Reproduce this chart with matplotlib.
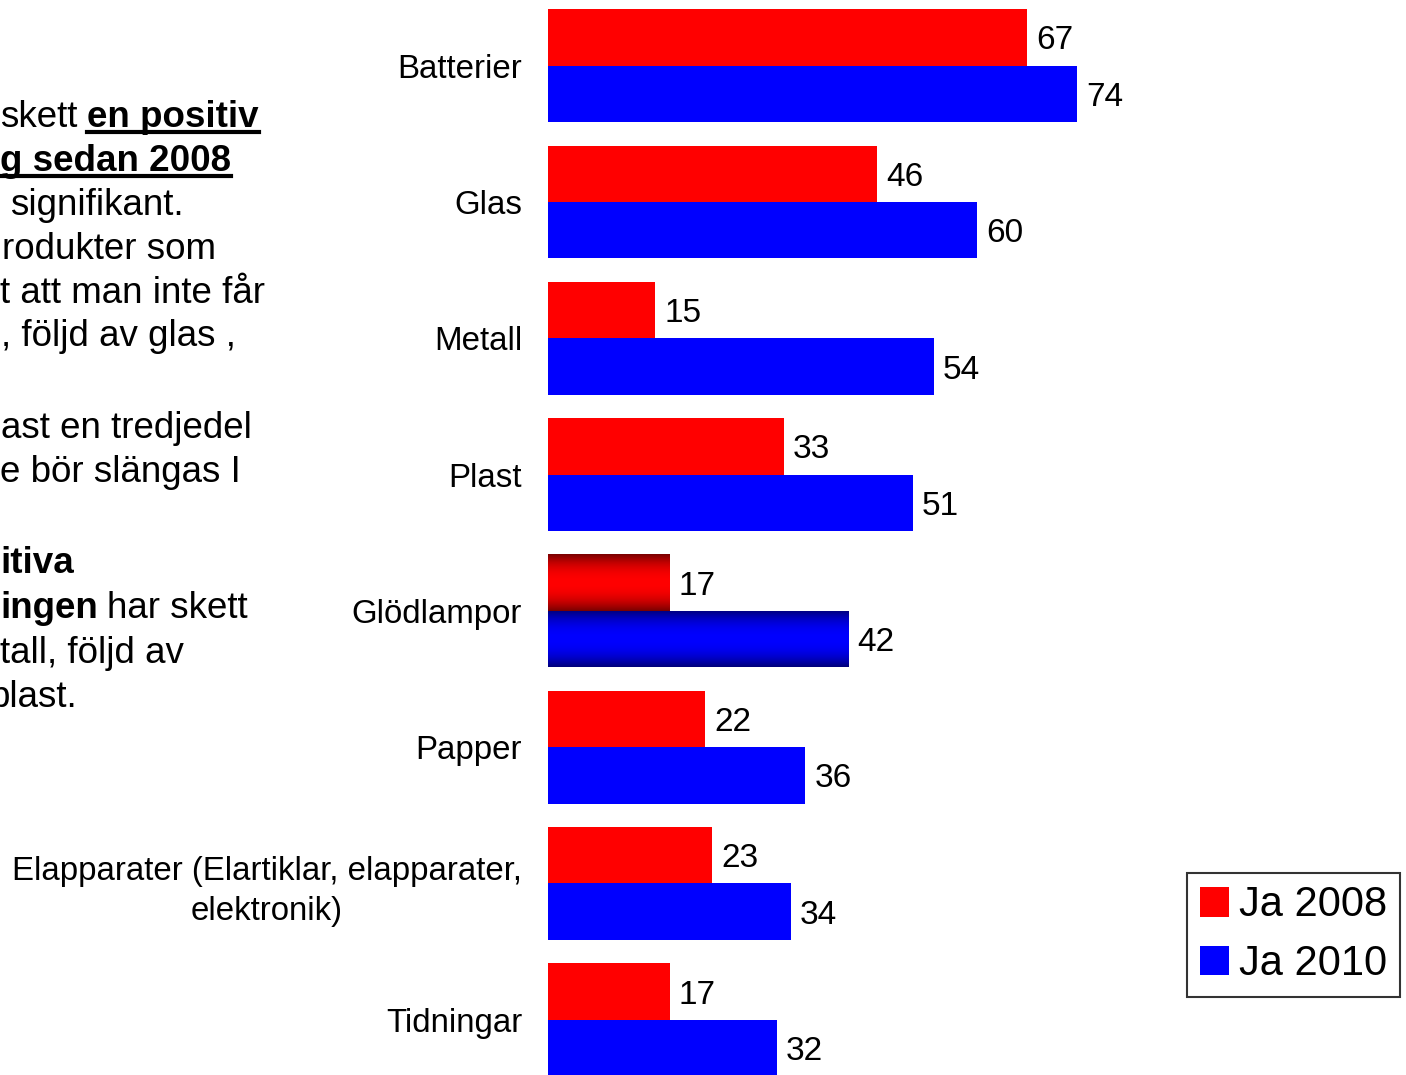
import numpy as np
import matplotlib
matplotlib.use("Agg")
import matplotlib.pyplot as plt
from matplotlib.lines import Line2D
from matplotlib.patches import Patch

plt.rcParams['font.family'] = ['Liberation Sans', 'DejaVu Sans']

# ---- data ----
categories = ['Batterier', 'Glas', 'Metall', 'Plast', 'Glödlampor', 'Papper',
              'Elapparater (Elartiklar, elapparater,\nelektronik)', 'Tidningar']
ja_2008 = [67, 46, 15, 33, 17, 22, 23, 17]
ja_2010 = [74, 60, 54, 51, 42, 36, 34, 32]
series_labels = ['Ja 2008', 'Ja 2010']
gradient_categories = ['Glödlampor']

RED = '#FF0000'
BLUE = '#0000FF'
DARK_RED = '#7A0000'
DARK_BLUE = '#00007A'

W, H = 1406, 1075
fig = plt.figure(figsize=(W / 100, H / 100), dpi=100)

def fx(px):
    return px / W

def fy(py):
    return 1 - py / H

ax = fig.add_axes([fx(548), 0, fx(1177) - fx(548), 1])

y = np.arange(len(categories))
h = 0.4145
b1 = ax.barh(y - h / 2, ja_2008, height=h, color=RED, label=series_labels[0])
b2 = ax.barh(y + h / 2, ja_2010, height=h, color=BLUE, label=series_labels[1])

# gradient overlay for selected categories
def grad_img(bright, dark, n=64):
    t = np.abs(np.linspace(-1, 1, n)) ** 2.2
    c1 = np.array(matplotlib.colors.to_rgb(bright))
    c0 = np.array(matplotlib.colors.to_rgb(dark))
    arr = c1[None, :] * (1 - t[:, None]) + c0[None, :] * t[:, None]
    return arr[:, None, :]

for cat in gradient_categories:
    i = categories.index(cat)
    for bars, bright, dark in ((b1, RED, DARK_RED), (b2, BLUE, DARK_BLUE)):
        p = bars[i]
        x0, y0, wd, ht = p.get_x(), p.get_y(), p.get_width(), p.get_height()
        im = ax.imshow(grad_img(bright, dark), extent=(x0, x0 + wd, y0 + ht, y0),
                       aspect='auto', interpolation='bilinear', zorder=3)
        im.set_clip_path(p)

ax.set_xlim(0, 88)
ax.set_ylim(7.405, -0.482)

for bars in (b1, b2):
    lbls = ax.bar_label(bars, padding=6.5, fontsize=24, color='black')
    for l in lbls:
        l.set_va('center_baseline')

ax.set_yticks(y)
ax.set_yticklabels(categories, fontsize=23.8, linespacing=1.38)
for lab in ax.get_yticklabels():
    lab.set_multialignment('center')
ax.tick_params(axis='y', length=0, pad=18.7)
ax.set_xticks([])
for s in ax.spines.values():
    s.set_visible(False)

# legend
handles = [Patch(facecolor=RED), Patch(facecolor=BLUE)]
leg = fig.legend(handles, series_labels, loc='upper right',
                 bbox_to_anchor=(fx(1400), fy(873)), bbox_transform=fig.transFigure,
                 fontsize=30, frameon=True, fancybox=False, borderaxespad=0,
                 handlelength=0.7, handleheight=0.7, handletextpad=0.25,
                 labelspacing=0.45, borderpad=0.3)
leg.get_frame().set_edgecolor('black')
leg.get_frame().set_linewidth(1.5)

# left-side clipped slide text
FS = 26.5
segments = [
    # (x_px, baseline_px, text, bold, underline)
    (0, 127, 'skett', False, False),
    (87, 127, 'en positiv', True, True),
    (0, 171, 'g sedan 2008', True, True),
    (10, 215, 'signifikant.', False, False),
    (2, 259, 'rodukter som', False, False),
    (0, 303, 't att man inte får', False, False),
    (1, 346, ', följd av glas ,', False, False),
    (1, 438, 'ast en tredjedel', False, False),
    (0, 482, 'e bör slängas I', False, False),
    (0, 573, 'itiva', True, False),
    (0, 618, 'ingen', True, False),
    (107, 618, 'har skett', False, False),
    (0, 663, 'tall, följd av', False, False),
    (-10, 707, 'plast.', False, False),
]
texts = []
for xp, bp, s, bold, ul in segments:
    t = fig.text(fx(xp), fy(bp), s, fontsize=FS, ha='left', va='baseline',
                 fontweight='bold' if bold else 'normal', color='black')
    texts.append((t, xp, bp, ul))

fig.canvas.draw()
r = fig.canvas.get_renderer()
for t, xp, bp, ul in texts:
    if ul:
        bb = t.get_window_extent(renderer=r)
        x0 = max(bb.x0, 0)
        fig.add_artist(Line2D([x0 / W, bb.x1 / W], [fy(bp + 5), fy(bp + 5)],
                              transform=fig.transFigure, color='black', linewidth=3))

fig.savefig('out.png', dpi=100, facecolor='white')
